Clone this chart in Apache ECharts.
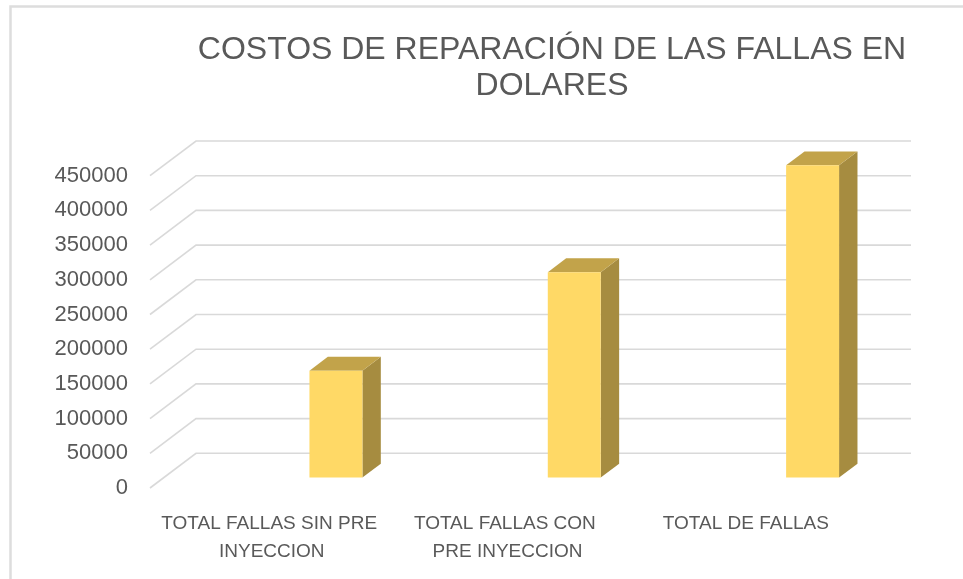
<!DOCTYPE html>
<html>
<head>
<meta charset="utf-8">
<script src="https://cdn.jsdelivr.net/npm/echarts@6/dist/echarts.min.js"></script>
<style>
  html, body { margin: 0; padding: 0; background: #ffffff; }
  #chart { width: 963px; height: 579px; }
</style>
</head>
<body>
<div id="chart"></div>
<script>
// Repair costs of failures, in dollars
const categories = [
  'TOTAL FALLAS SIN PRE INYECCION',
  'TOTAL FALLAS CON PRE INYECCION',
  'TOTAL DE FALLAS'
];
const costValues = [154000, 296000, 450000];
const yTicks = [0, 50000, 100000, 150000, 200000, 250000, 300000, 350000, 400000, 450000];
const chartTitle = 'COSTOS DE REPARACIÓN DE LAS FALLAS EN\nDOLARES';

// Oblique projection of the floor depth (pixels)
const DEPTH_X = 46;
const DEPTH_Y = 34.7;
// Column slot within a category band (three slots, 150% gap) and depth placement
const SLOT_INDEX = 2;
const BAR_FRONT = 0.3;
const BAR_DEPTH = 0.4;

const FRONT_COLOR = '#FFD966';
const TOP_COLOR = '#C2A34A';
const SIDE_COLOR = '#A68C40';
const GRID_COLOR = '#D9D9D9';
const TEXT_COLOR = '#595959';

const chart = echarts.init(document.getElementById('chart'), null, { renderer: 'canvas' });

function renderGridLine(params, api) {
  const cs = params.coordSys;
  const v = api.value(0);
  const y = api.coord([0, v])[1];
  const x0 = cs.x;
  return {
    type: 'polyline',
    shape: {
      points: [
        [x0, y],
        [x0 + DEPTH_X, y - DEPTH_Y],
        [x0 + cs.width + DEPTH_X, y - DEPTH_Y]
      ]
    },
    style: { stroke: GRID_COLOR, lineWidth: 1.6, fill: null },
    silent: true
  };
}

function renderBar(params, api) {
  const idx = api.value(0);
  const val = api.value(1);
  const base = api.coord([idx, 0]);
  const topPt = api.coord([idx, val]);
  const band = api.size([1, 0])[0];
  const w = band / 4.5;
  const fx = BAR_FRONT * DEPTH_X, fy = BAR_FRONT * DEPTH_Y;
  const dx = BAR_DEPTH * DEPTH_X, dy = BAR_DEPTH * DEPTH_Y;
  const L = base[0] - band / 2 + 0.75 * w + SLOT_INDEX * w + fx;
  const R = L + w;
  const B = base[1] - fy;
  const T = topPt[1] - fy;
  return {
    type: 'group',
    children: [
      {
        type: 'polygon',
        shape: { points: [[R, T], [R + dx, T - dy], [R + dx, B - dy], [R, B]] },
        style: { fill: SIDE_COLOR }
      },
      {
        type: 'polygon',
        shape: { points: [[L, T], [R, T], [R + dx, T - dy], [L + dx, T - dy]] },
        style: { fill: TOP_COLOR }
      },
      {
        type: 'rect',
        shape: { x: L, y: T, width: w, height: B - T },
        style: { fill: FRONT_COLOR }
      }
    ]
  };
}

const option = {
  backgroundColor: '#ffffff',
  animation: false,
  title: {
    text: chartTitle,
    left: 552,
    top: 32,
    padding: 0,
    textAlign: 'center',
    textStyle: {
      fontFamily: 'Liberation Sans, Arial, sans-serif',
      fontSize: 32,
      fontWeight: 'normal',
      color: TEXT_COLOR,
      lineHeight: 36
    }
  },
  graphic: [
    {
      type: 'rect',
      shape: { x: 10.5, y: 6.5, width: 2000, height: 2000 },
      style: { fill: null, stroke: '#DDDDDD', lineWidth: 2.5 },
      silent: true,
      z: -10
    }
  ],
  grid: { left: 150, right: 98, top: 175.7, bottom: 91, containLabel: false },
  xAxis: {
    type: 'category',
    data: categories,
    axisLine: { show: false },
    axisTick: { show: false },
    splitLine: { show: false },
    axisLabel: {
      interval: 0,
      margin: 22,
      width: 222,
      overflow: 'break',
      fontFamily: 'Liberation Sans, Arial, sans-serif',
      fontSize: 19,
      lineHeight: 28,
      color: TEXT_COLOR
    }
  },
  yAxis: {
    type: 'value',
    min: yTicks[0],
    max: yTicks[yTicks.length - 1],
    interval: yTicks[1] - yTicks[0],
    axisLine: { show: false },
    axisTick: { show: false },
    splitLine: { show: false },
    axisLabel: {
      margin: 22,
      formatter: v => String(v),
      fontFamily: 'Liberation Sans, Arial, sans-serif',
      fontSize: 22,
      color: TEXT_COLOR
    }
  },
  series: [
    {
      type: 'custom',
      name: 'grid',
      renderItem: renderGridLine,
      data: yTicks.map(v => [v]),
      encode: { y: 0 },
      silent: true,
      z: 1
    },
    {
      type: 'custom',
      name: 'Costo',
      renderItem: renderBar,
      data: costValues.map((v, i) => [i, v]),
      encode: { x: 0, y: 1 },
      z: 5
    }
  ]
};

chart.setOption(option);
</script>
</body>
</html>
